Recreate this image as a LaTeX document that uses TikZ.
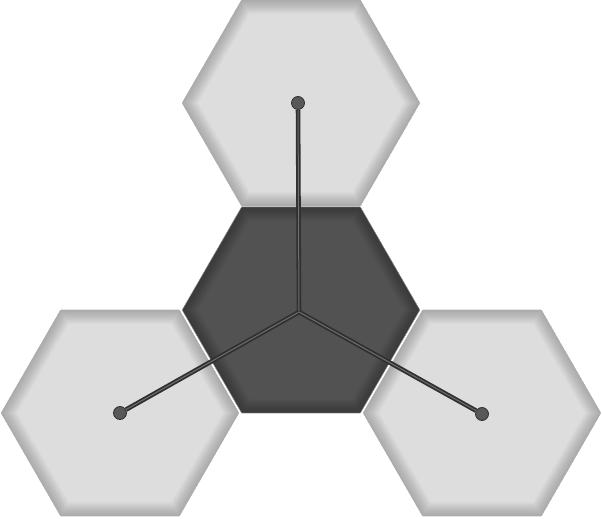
\documentclass[tikz,border=0pt]{standalone}
\usetikzlibrary{calc}
\definecolor{lightcell}{RGB}{221,221,221}
\definecolor{darkcell}{RGB}{82,82,82}
\definecolor{spoke}{RGB}{48,48,48}
\definecolor{spokelight}{RGB}{110,110,110}
\definecolor{dotgray}{RGB}{88,88,88}
\newcommand{\hexcell}[1]{($(#1)+(0:119)$) -- ($(#1)+(60:119)$) -- ($(#1)+(120:119)$)
  -- ($(#1)+(180:119)$) -- ($(#1)+(240:119)$) -- ($(#1)+(300:119)$) -- cycle}
\tikzset{
  cellshade/.style={draw=black, draw opacity=0.016, line width=#1, yshift=-3pt},
  rim/.style={draw=black!30, line width=0.6pt},
  spokeline/.style={draw=spoke, line width=1.8pt, double=spokelight, double distance=1pt},
  dotnode/.style={circle, fill=dotgray, draw=spoke, line width=0.8pt, minimum size=13pt, inner sep=0pt}
}
\begin{document}
\begin{tikzpicture}[x=1pt,y=1pt]
  \useasboundingbox (0,0) rectangle (602,519);
  \coordinate (hubc) at (301,209);
  \coordinate (topc) at (301,416);
  \coordinate (leftc) at (120,106);
  \coordinate (rightc) at (482,106);

  % hexagon cells with inner shadow
  \foreach \c/\col in {topc/lightcell, leftc/lightcell, rightc/lightcell, hubc/darkcell} {
    \fill[\col] \hexcell{\c};
    \begin{scope}
      \clip \hexcell{\c};
      \foreach \w in {2,4,...,28} \draw[cellshade=\w] \hexcell{\c};
      \draw[rim] \hexcell{\c};
    \end{scope}
  }

  \coordinate (hub) at (299,207);
  \node[dotnode] (topdot) at (298,416) {};
  \node[dotnode] (leftdot) at (120,106) {};
  \node[dotnode] (rightdot) at (482,105) {};

  \draw[spokeline] (hub) -- (topdot);
  \draw[spokeline] (hub) -- (leftdot);
  \draw[spokeline] (hub) -- (rightdot);
\end{tikzpicture}
\end{document}
